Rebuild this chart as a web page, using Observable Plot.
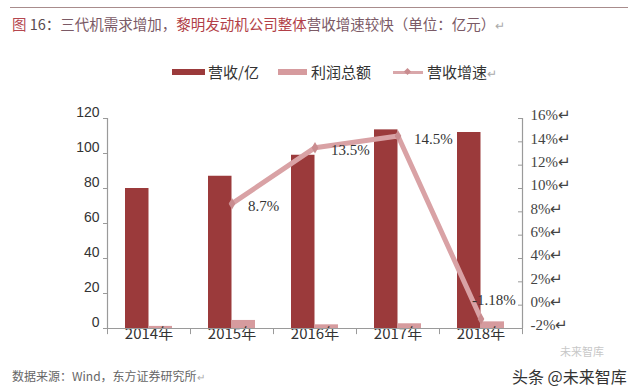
<!DOCTYPE html>
<html><head><meta charset="utf-8">
<script src="https://cdn.jsdelivr.net/npm/d3@7"></script>
<script src="https://cdn.jsdelivr.net/npm/@observablehq/plot@0.6"></script>
<style>
body{margin:0;background:#fff;width:640px;height:388px;position:relative;overflow:hidden;font-family:"Noto Sans CJK SC",sans-serif;}
#top{position:absolute;left:0;top:0;width:640px;height:90px;}
#rule{position:absolute;left:10px;top:7px;width:618px;height:0;border-top:1.5px solid #a88c8c;}
#title{position:absolute;left:12px;top:13px;font-size:14.5px;line-height:22px;white-space:nowrap;color:#7b5a66;}
.sw{position:absolute;}
.lt{position:absolute;top:61px;font-size:15px;line-height:22px;color:#333;white-space:nowrap;}
.ret{color:#aaa;font-size:0.8em;}
#chart{position:absolute;left:0;top:90px;width:640px;height:260px;}
#foot{position:absolute;left:0;top:350px;width:640px;height:38px;}
#src{position:absolute;left:12px;top:17px;font-size:12px;line-height:18px;color:#666;white-space:nowrap;}
#wm{position:absolute;left:512px;top:16px;font-size:16px;line-height:20px;color:#333;white-space:nowrap;}
#wm2{position:absolute;left:560px;top:-5px;font-size:11px;line-height:13px;color:#c8c8c8;white-space:nowrap;}
</style></head>
<body>
<div id="top">
  <div id="rule"></div>
  <div id="title"><span style="color:#b5474f">图</span><span style="color:#5a4a50"> 16：</span>三代机需求增加，<span style="color:#b23f48">黎明发动机公司整体</span>营收增速较快（单位：亿元）<span class="ret">↵</span></div>
  <div class="sw" style="left:172px;top:69px;width:33px;height:6px;background:#9b3a3b"></div>
  <div class="lt" style="left:208px">营收/亿</div>
  <div class="sw" style="left:278px;top:69px;width:29px;height:6px;background:#d69b9e"></div>
  <div class="lt" style="left:311px">利润总额</div>
  <div class="sw" style="left:393px;top:71px;width:30px;height:3px;background:#d9a7aa"></div>
  <div class="sw" style="left:405px;top:69px;width:5px;height:5px;background:#c98c8f;transform:rotate(45deg)"></div>
  <div class="lt" style="left:427px">营收增速<span class="ret">↵</span></div>
</div>
<div id="chart"></div>
<div id="foot">
  <div id="src">数据来源：Wind，东方证券研究所<span class="ret">↵</span></div>
  <div id="wm2">未来智库</div>
  <div id="wm">头条 @未来智库</div>
</div>
<script>
const years = ["2014年", "2015年", "2016年", "2017年", "2018年"];
const revenue = [80, 87, 99, 113.5, 112];
const profit = [1.2, 4.6, 2.1, 2.7, 3.8];
const growthYears = ["2015年", "2016年", "2017年", "2018年"];
const growth = [8.7, 13.5, 14.5, -1.18];
const growthLabels = ["8.7%", "13.5%", "14.5%", "-1.18%"];
const leftTicks = [0, 20, 40, 60, 80, 100, 120];
const rightTicks = [-2, 0, 2, 4, 6, 8, 10, 12, 14, 16];
const leftDomain = [0, 120];
const rightDomain = [-2, 16];

const revColor = "#9b3a3b", profColor = "#d69b9e", lineColor = "#d9a2a5", markColor = "#c98c8f";
const axisColor = "#9a9a9a";

const toLeft = g => (g - rightDomain[0]) / (rightDomain[1] - rightDomain[0]) * (leftDomain[1] - leftDomain[0]) + leftDomain[0];
const fromLeft = v => (v - leftDomain[0]) / (leftDomain[1] - leftDomain[0]) * (rightDomain[1] - rightDomain[0]) + rightDomain[0];

const revData = years.map((year, i) => ({year, value: revenue[i]}));
const profData = years.map((year, i) => ({year, value: profit[i]}));
const growthData = growthYears.map((year, i) => ({year, g: toLeft(growth[i]), label: growthLabels[i]}));

const W = 640, H = 260, mL = 107, mR = 118, mT = 28, mB = 22;
const step = (W - mL - mR) / years.length;
const bw = 23.5;
const pInner = 1 - bw / step;
const pOuter = pInner / 2;

const chart = Plot.plot({
  width: W, height: H,
  marginLeft: mL, marginRight: mR, marginTop: mT, marginBottom: mB,
  style: {background: "transparent", overflow: "visible"},
  x: {domain: years, type: "band", paddingInner: pInner, paddingOuter: pOuter, round: false, label: null},
  y: {domain: leftDomain, label: null},
  marks: [
    Plot.barY(revData, {x: "year", y: "value", fill: revColor, dx: -bw / 2}),
    Plot.barY(profData, {x: "year", y: "value", fill: profColor, dx: bw / 2}),
    Plot.axisX({tickSize: 0, tickPadding: 0, fontSize: 15, fontFamily: "Noto Sans CJK SC", fill: "#333", label: null}),
    Plot.ruleY([0], {stroke: axisColor, strokeWidth: 1.2}),
    Plot.ruleX(years, {y1: 0, y2: -3.5, dx: -step / 2, stroke: axisColor}),
    Plot.ruleX([years[years.length - 1]], {y1: 0, y2: -3.5, dx: step / 2, stroke: axisColor}),
    Plot.ruleX([years[0]], {dx: -step / 2, stroke: axisColor, strokeWidth: 1.2}),
    Plot.ruleX([years[years.length - 1]], {dx: step / 2, stroke: axisColor, strokeWidth: 1.2}),
    Plot.axisY({ticks: leftTicks, anchor: "left", tickSize: 4, text: null, stroke: axisColor, label: null}),
    Plot.axisY({ticks: leftTicks, anchor: "left", tickSize: 0, tickPadding: 8, dy: -6, fontSize: 14, fontFamily: "Liberation Sans", fill: "#333", label: null}),
    Plot.axisY({ticks: rightTicks.map(toLeft), anchor: "right", tickSize: 5, dx: -5, text: null, stroke: axisColor, label: null}),
    Plot.axisY({ticks: rightTicks.map(toLeft), anchor: "right", tickSize: 0, tickPadding: 8, dy: -3,
      tickFormat: v => Math.round(fromLeft(v)) + "%↵", fontSize: 15, fontFamily: "Liberation Serif", fill: "#444", label: null}),
    Plot.line(growthData, {x: "year", y: "g", stroke: lineColor, strokeWidth: 5}),
    Plot.dot(growthData, {x: "year", y: "g", symbol: "diamond", r: 3.5, fill: markColor}),
    Plot.text(growthData.slice(0, 3), {x: "year", y: "g", text: "label", textAnchor: "start", dx: 16, dy: 3, fontSize: 15, fontFamily: "Liberation Serif", fill: "#333"}),
    Plot.text(growthData.slice(3), {x: "year", y: "g", text: "label", textAnchor: "start", dx: -9, dy: -19, fontSize: 15, fontFamily: "Liberation Serif", fill: "#333"})
  ]
});
document.getElementById("chart").appendChild(chart);
</script>
</body></html>
